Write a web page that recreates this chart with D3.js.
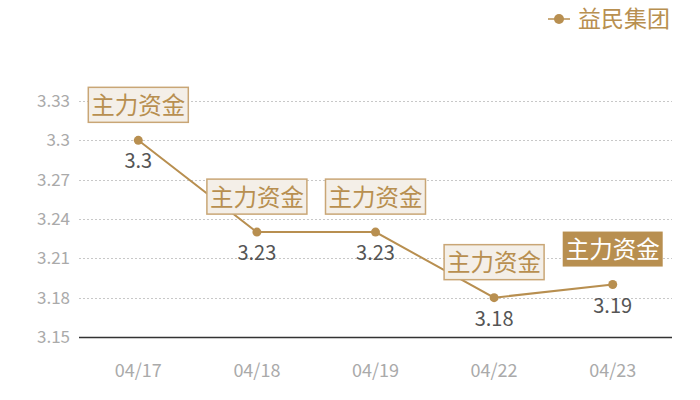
<!DOCTYPE html>
<html>
<head>
<meta charset="utf-8">
<script src="https://cdn.jsdelivr.net/npm/d3@7"></script>
<style>
  body { margin: 0; background: #fff; }
  text { font-family: "Noto Sans CJK SC", "Noto Sans", sans-serif; }
</style>
</head>
<body>
<div id="chart"></div>
<script>
// chart data
const dates = ["04/17", "04/18", "04/19", "04/22", "04/23"];
const prices = [3.3, 3.23, 3.23, 3.18, 3.19];
const tags = ["主力资金", "主力资金", "主力资金", "主力资金", "主力资金"];
const highlighted = [false, false, false, false, true];
const yTicks = [3.15, 3.18, 3.21, 3.24, 3.27, 3.3, 3.33];
const seriesName = "益民集团";

const gold = "#b88f50";
const width = 700, height = 400;
const margin = { top: 101, right: 28, bottom: 63, left: 79 };

const svg = d3.select("#chart")
    .append("svg")
    .attr("width", width)
    .attr("height", height);

const x = d3.scaleBand()
    .domain(dates)
    .range([margin.left, width - margin.right]);

const y = d3.scaleLinear()
    .domain([3.15, 3.33])
    .range([height - margin.bottom, margin.top]);

// grid lines
svg.append("g")
    .selectAll("line")
    .data(yTicks.slice(1))
    .enter()
    .append("line")
    .attr("x1", margin.left)
    .attr("x2", width - margin.right)
    .attr("y1", d => Math.round(y(d)) + 0.5)
    .attr("y2", d => Math.round(y(d)) + 0.5)
    .style("stroke", "#c8c8c8")
    .style("stroke-dasharray", "2,2");

// baseline
svg.append("line")
    .attr("x1", margin.left)
    .attr("x2", width - margin.right)
    .attr("y1", Math.round(y(3.15)) + 0.5)
    .attr("y2", Math.round(y(3.15)) + 0.5)
    .style("stroke", "#333")
    .style("stroke-width", 1.5);

// y labels
svg.append("g")
    .selectAll("text")
    .data(yTicks)
    .enter()
    .append("text")
    .attr("x", 70)
    .attr("y", d => y(d))
    .attr("dy", "0.35em")
    .style("text-anchor", "end")
    .style("font-size", "17px")
    .style("fill", "#aaa")
    .text(d => d3.format("~g")(d));

// x labels
svg.append("g")
    .selectAll("text")
    .data(dates)
    .enter()
    .append("text")
    .attr("x", d => x(d) + x.bandwidth() / 2)
    .attr("y", 371)
    .attr("dy", "0.35em")
    .style("text-anchor", "middle")
    .style("font-size", "18px")
    .style("fill", "#aaa")
    .text(d => d);

const points = dates.map((d, i) => ({ date: d, value: prices[i], tag: tags[i], hl: highlighted[i] }));
const cx = d => x(d.date) + x.bandwidth() / 2;

// line
svg.append("path")
    .datum(points)
    .attr("d", d3.line().x(cx).y(d => y(d.value)))
    .style("fill", "none")
    .style("stroke", gold)
    .style("stroke-width", 2);

svg.append("g")
    .selectAll("circle")
    .data(points)
    .enter()
    .append("circle")
    .attr("cx", cx)
    .attr("cy", d => y(d.value))
    .attr("r", 4.5)
    .style("fill", gold);

// value labels
svg.append("g")
    .selectAll("text")
    .data(points)
    .enter()
    .append("text")
    .attr("x", cx)
    .attr("y", d => y(d.value) + 21)
    .attr("dy", "0.35em")
    .style("text-anchor", "middle")
    .style("font-size", "20px")
    .style("fill", "#555")
    .text(d => d.value);

// tag boxes
const tagW = 100, tagH = 35;
const tagG = svg.append("g")
    .selectAll("g")
    .data(points)
    .enter()
    .append("g")
    .attr("transform", d => `translate(${cx(d)},${y(d.value) - 18 - tagH / 2})`);

tagG.append("rect")
    .attr("x", -tagW / 2)
    .attr("y", -tagH / 2)
    .attr("width", tagW)
    .attr("height", tagH)
    .style("fill", d => d.hl ? gold : "#f4efe8")
    .style("stroke", d => d.hl ? "none" : "#c9a676")
    .style("stroke-width", 1.5);

tagG.append("text")
    .attr("y", 1)
    .attr("dy", "0.35em")
    .style("text-anchor", "middle")
    .style("font-size", "23.5px")
    .style("fill", d => d.hl ? "#fff" : gold)
    .text(d => d.tag);

// legend
const legend = svg.append("g").attr("transform", "translate(548,19)");
legend.append("line")
    .attr("x1", 0).attr("x2", 22)
    .style("stroke", gold)
    .style("stroke-width", 1.5);
legend.append("circle")
    .attr("cx", 11)
    .attr("r", 5)
    .style("fill", gold);
legend.append("text")
    .attr("x", 30)
    .attr("dy", "0.35em")
    .style("font-size", "23px")
    .style("fill", gold)
    .text(seriesName);
</script>
</body>
</html>
